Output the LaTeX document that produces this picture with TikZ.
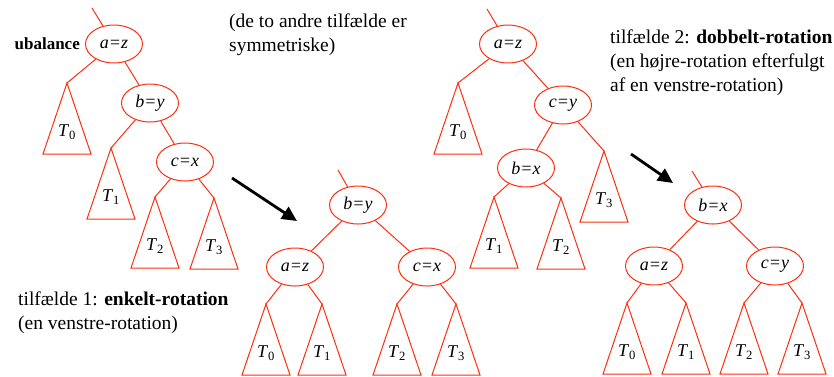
\documentclass[tikz,border=0pt]{standalone}
\usepackage{fontspec}
\setmainfont{Liberation Serif}
\usepackage{tikz}
\usetikzlibrary{arrows.meta, positioning, shapes.geometric}
\definecolor{roed}{RGB}{255,45,15}

\tikzset{
	knude/.style={draw=roed, ellipse, line width=1pt, minimum width=57pt, minimum height=38pt, inner sep=0pt, font=\fontsize{18}{20}\selectfont\itshape},
	kant/.style={draw=roed, line width=1pt},
	pil/.style={-{Triangle[length=15pt,width=14pt]}, line width=2.8pt},
	tekst/.style={align=left, anchor=west, inner sep=0pt},
}
% deltræ: navn, spids, indeks
\newcommand{\deltrae}[3]{%
	\draw[kant] (#2) -- ++(-24,71) -- ++(48,0) -- cycle;
	\node[font=\fontsize{18}{20}\selectfont] (#1) at ([yshift=-49pt]#2) {\textit{T}\textsubscript{#3}};
}

\begin{document}
\begin{tikzpicture}[x=1pt, y=-1pt, font=\fontsize{19.5}{24}\selectfont]
	\useasboundingbox (0,0) rectangle (834,376);
	% ubalanceret træ
	\node[knude] (a1) at (114,44) {a=z};
	\node[knude] (b1) at (150,103) {b=y};
	\node[knude] (c1) at (185,162) {c=x};
	\node[left=5pt of a1, inner sep=0pt, font=\fontsize{17}{20}\selectfont\bfseries] (ubal) {ubalance};
	\coordinate (top1) at (92,8);
	\coordinate (s10) at (67,83);
	\coordinate (s11) at (111,148);
	\coordinate (s12) at (155,197);
	\coordinate (s13) at (214,198);
	\draw[kant] (top1) -- (a1) (a1) -- (s10) (a1) -- (b1)
		(b1) -- (s11) (b1) -- (c1) (c1) -- (s12) (c1) -- (s13);
	\deltrae{T10}{s10}{0}
	\deltrae{T11}{s11}{1}
	\deltrae{T12}{s12}{2}
	\deltrae{T13}{s13}{3}
	% enkelt-rotation
	\node[knude] (b2) at (358,205) {b=y};
	\node[knude] (a2) at (295,267) {a=z};
	\node[knude] (c2) at (427,267) {c=x};
	\coordinate (top2) at (338,170);
	\coordinate (s20) at (266,304);
	\coordinate (s21) at (322,304);
	\coordinate (s22) at (397,304);
	\coordinate (s23) at (456,304);
	\draw[kant] (top2) -- (b2) (b2) -- (a2) (b2) -- (c2)
		(a2) -- (s20) (a2) -- (s21) (c2) -- (s22) (c2) -- (s23);
	\deltrae{T20}{s20}{0}
	\deltrae{T21}{s21}{1}
	\deltrae{T22}{s22}{2}
	\deltrae{T23}{s23}{3}
	% ubalanceret træ, dobbelt
	\node[knude] (a3) at (508,44) {a=z};
	\node[knude] (c3) at (563,105) {c=y};
	\node[knude] (b3) at (526,168) {b=x};
	\coordinate (top3) at (487,9);
	\coordinate (s30) at (458,83);
	\coordinate (s31) at (494,197);
	\coordinate (s32) at (561,198);
	\coordinate (s33) at (604,151);
	\draw[kant] (top3) -- (a3) (a3) -- (s30) (a3) -- (c3)
		(c3) -- (b3) (c3) -- (s33) (b3) -- (s31) (b3) -- (s32);
	\deltrae{T30}{s30}{0}
	\deltrae{T31}{s31}{1}
	\deltrae{T32}{s32}{2}
	\deltrae{T33}{s33}{3}
	% dobbelt-rotation
	\node[knude] (b4) at (713,205) {b=x};
	\node[knude] (a4) at (654,266) {a=z};
	\node[knude] (c4) at (775,266) {c=y};
	\coordinate (top4) at (692,171);
	\coordinate (s40) at (627,303);
	\coordinate (s41) at (686,303);
	\coordinate (s42) at (744,303);
	\coordinate (s43) at (802,303);
	\draw[kant] (top4) -- (b4) (b4) -- (a4) (b4) -- (c4)
		(a4) -- (s40) (a4) -- (s41) (c4) -- (s42) (c4) -- (s43);
	\deltrae{T40}{s40}{0}
	\deltrae{T41}{s41}{1}
	\deltrae{T42}{s42}{2}
	\deltrae{T43}{s43}{3}
	% pile
	\coordinate (p1a) at (232,178);
	\coordinate (p1b) at (297,221);
	\coordinate (p2a) at (631,154);
	\coordinate (p2b) at (673,183);
	\draw[pil] (p1a) -- (p1b);
	\draw[pil] (p2a) -- (p2b);
	% tekster
	\node[tekst] (sym) at (229,35) {(de to andre tilfælde er\\symmetriske)};
	\node[tekst] (tf1) at (18,313) {tilfælde 1: \textbf{enkelt-rotation}\\(en venstre-rotation)};
	\node[tekst] (tf2) at (610,63) {tilfælde 2: \textbf{dobbelt-rotation}\\(en højre-rotation efterfulgt\\af en venstre-rotation)};
\end{tikzpicture}
\end{document}
